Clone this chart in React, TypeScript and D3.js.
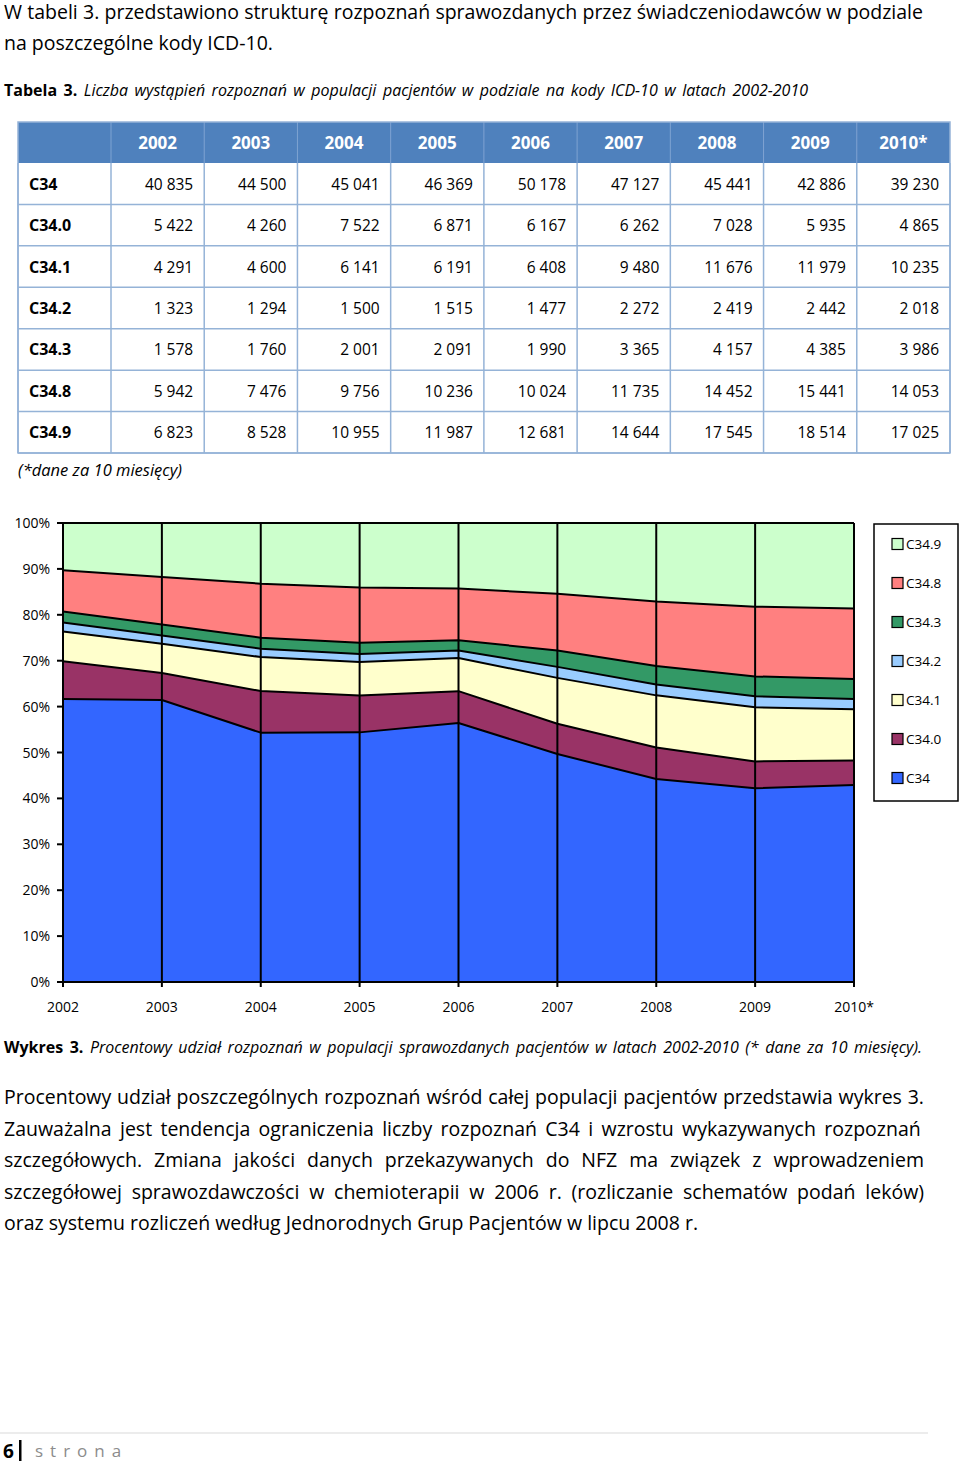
import React, { useRef, useLayoutEffect } from 'react';
import * as d3 from 'd3';

const years = ['2002', '2003', '2004', '2005', '2006', '2007', '2008', '2009', '2010*'];
const codes = ['C34', 'C34.0', 'C34.1', 'C34.2', 'C34.3', 'C34.8', 'C34.9'];
const c34 = [40835, 44500, 45041, 46369, 50178, 47127, 45441, 42886, 39230];
const c340 = [5422, 4260, 7522, 6871, 6167, 6262, 7028, 5935, 4865];
const c341 = [4291, 4600, 6141, 6191, 6408, 9480, 11676, 11979, 10235];
const c342 = [1323, 1294, 1500, 1515, 1477, 2272, 2419, 2442, 2018];
const c343 = [1578, 1760, 2001, 2091, 1990, 3365, 4157, 4385, 3986];
const c348 = [5942, 7476, 9756, 10236, 10024, 11735, 14452, 15441, 14053];
const c349 = [6823, 8528, 10955, 11987, 12681, 14644, 17545, 18514, 17025];
const seriesValues = [c34, c340, c341, c342, c343, c348, c349];
const colors = ['#3366FF', '#993366', '#FFFFCC', '#99CCFF', '#339966', '#FF8080', '#CCFFCC'];

const introLines = [
  'W tabeli 3. przedstawiono strukturę rozpoznań sprawozdanych przez świadczeniodawców w podziale',
  'na poszczególne kody ICD-10.',
];
const paraLines = [
  'Procentowy udział poszczególnych rozpoznań wśród całej populacji pacjentów przedstawia wykres 3.',
  'Zauważalna jest tendencja ograniczenia liczby rozpoznań C34 i  wzrostu wykazywanych rozpoznań',
  'szczegółowych. Zmiana jakości danych przekazywanych do NFZ ma związek z wprowadzeniem',
  'szczegółowej sprawozdawczości w chemioterapii w 2006 r. (rozliczanie schematów podań leków)',
  'oraz systemu rozliczeń według Jednorodnych Grup Pacjentów w lipcu 2008 r.',
];

const FONT = '"Open Sans", "Noto Sans", sans-serif';

const locale = d3.formatLocale({ decimal: ',', thousands: ' ', grouping: [3], currency: ['', ''] });
const fmt = locale.format(',d');

function JText(props: any) {
  const { width, children, ...rest } = props;
  const ref = useRef<SVGTextElement>(null);
  useLayoutEffect(() => {
    const run = () => {
      const el = ref.current;
      if (!el || !width) return;
      el.setAttribute('word-spacing', '0');
      const len = el.getComputedTextLength();
      const spaces = ((el.textContent || '').match(/ /g) || []).length;
      if (spaces) el.setAttribute('word-spacing', String((width - len) / spaces));
    };
    run();
    if ((document as any).fonts) (document as any).fonts.ready.then(run);
  }, [width]);
  return (
    <text ref={ref} {...rest}>
      {children}
    </text>
  );
}

export default function App() {
  // Table geometry
  const tLeft = 18, tRight = 950, tTop = 122, hdrBottom = 163, tBottom = 453;
  const firstColRight = 111;
  const colX = d3.scaleLinear().domain([0, years.length]).range([firstColRight, tRight]);
  const rowY = d3.scaleLinear().domain([0, codes.length]).range([hdrBottom, tBottom]);
  const rowH = rowY(1) - rowY(0);

  // Chart geometry
  const x = d3.scalePoint<string>().domain(years).range([63, 854]);
  const y = d3.scaleLinear().domain([0, 1]).range([982, 523]);
  const table = years.map((yr, i) => {
    const o: any = { year: yr };
    codes.forEach((c, k) => (o[c] = seriesValues[k][i]));
    return o;
  });
  const stack = d3.stack<any>().keys(codes).offset(d3.stackOffsetExpand);
  const layers = stack(table);
  const area = d3
    .area<any>()
    .x((d) => x(d.data.year) as number)
    .y0((d) => y(d[0]))
    .y1((d) => y(d[1]));
  const topLine = d3
    .line<any>()
    .x((d) => x(d.data.year) as number)
    .y((d) => y(d[1]));
  const yTicks = y.ticks(10);

  const legendY = d3.scalePoint<string>().domain([...codes].reverse()).range([544, 778]);

  return (
    <svg
      width={960}
      height={1463}
      style={{ position: 'absolute', left: 0, top: 0, background: '#fff' }}
      fontFamily={FONT}
    >
      <rect x={0} y={0} width={960} height={1463} fill="#fff" />
      {/* Intro */}
      <JText x={4} y={19} fontSize={19.5} width={919} fill="#000">
        {introLines[0]}
      </JText>
      <text x={4} y={50} fontSize={19.5} fill="#000">
        {introLines[1]}
      </text>
      <JText x={4} y={96} fontSize={16} width={804} fill="#000">
        <tspan fontWeight="bold">Tabela 3.</tspan>
        <tspan fontStyle="italic"> Liczba wystąpień rozpoznań w populacji pacjentów w podziale na kody ICD-10 w latach 2002-2010</tspan>
      </JText>

      {/* Table */}
      <rect x={tLeft} y={tTop} width={tRight - tLeft} height={hdrBottom - tTop} fill="#4F81BD" />
      {years.map((yr, i) => (
        <line
          key={'hs' + i}
          x1={colX(i)}
          x2={colX(i)}
          y1={tTop}
          y2={hdrBottom}
          stroke="#7FA3D2"
          strokeWidth={1}
        />
      ))}
      {years.map((yr, i) => (
        <text
          key={'h' + yr}
          x={(colX(i) + colX(i + 1)) / 2}
          y={(tTop + hdrBottom) / 2 + 6}
          textAnchor="middle"
          fontSize={17}
          fontWeight="bold"
          fill="#fff"
        >
          {yr}
        </text>
      ))}
      {codes.map((c, r) => (
        <g key={'row' + c}>
          <text x={29} y={rowY(r) + rowH / 2 + 6} fontSize={16} fontWeight="bold" fill="#000">
            {c}
          </text>
          {seriesValues[r].map((v, i) => (
            <text
              key={i}
              x={colX(i + 1) - 11}
              y={rowY(r) + rowH / 2 + 6}
              textAnchor="end"
              fontSize={15.5}
              fill="#000"
            >
              {fmt(v)}
            </text>
          ))}
        </g>
      ))}
      {codes.map((c, r) => (
        <line
          key={'hl' + r}
          x1={tLeft}
          x2={tRight}
          y1={rowY(r + 1)}
          y2={rowY(r + 1)}
          stroke="#95B3D7"
          strokeWidth={1.5}
        />
      ))}
      {[firstColRight, ...years.map((_, i) => colX(i + 1))].map((xx, i) => (
        <line key={'vl' + i} x1={xx} x2={xx} y1={hdrBottom} y2={tBottom} stroke="#95B3D7" strokeWidth={1.5} />
      ))}
      <line x1={tLeft} x2={tLeft} y1={hdrBottom} y2={tBottom} stroke="#95B3D7" strokeWidth={1.5} />
      <rect
        x={tLeft}
        y={tTop}
        width={tRight - tLeft}
        height={tBottom - tTop}
        fill="none"
        stroke="#95B3D7"
        strokeWidth={1.5}
      />
      <text x={18} y={476} fontSize={16.5} fontStyle="italic" fill="#000">
        (*dane za 10 miesięcy)
      </text>

      {/* Chart */}
      {layers.map((l, k) => (
        <path key={'a' + k} d={area(l as any) || ''} fill={colors[k]} stroke="none" />
      ))}
      {layers.map((l, k) => (
        <path
          key={'l' + k}
          d={topLine(l as any) || ''}
          fill="none"
          stroke="#000"
          strokeWidth={2}
          strokeLinejoin="round"
        />
      ))}
      {years.map((yr) => (
        <line key={'g' + yr} x1={x(yr)} x2={x(yr)} y1={y(1)} y2={y(0) + 5} stroke="#000" strokeWidth={2} />
      ))}
      <line x1={x(years[0])} x2={x(years[years.length - 1])} y1={y(0)} y2={y(0)} stroke="#000" strokeWidth={2} />
      {yTicks.map((t) => (
        <g key={'yt' + t}>
          <line x1={57} x2={63} y1={y(t)} y2={y(t)} stroke="#000" strokeWidth={2} />
          <text x={50} y={y(t) + 5} textAnchor="end" fontSize={14} fill="#000">
            {d3.format('.0%')(t)}
          </text>
        </g>
      ))}
      {years.map((yr) => (
        <text key={'xt' + yr} x={x(yr)} y={1012} textAnchor="middle" fontSize={14} fill="#000">
          {yr}
        </text>
      ))}

      {/* Legend */}
      <rect x={874} y={524} width={84} height={277} fill="#fff" stroke="#000" strokeWidth={1.5} />
      {[...codes].reverse().map((c) => {
        const k = codes.indexOf(c);
        const ly = legendY(c) as number;
        return (
          <g key={'lg' + c}>
            <rect x={892} y={ly - 5.5} width={11} height={11} fill={colors[k]} stroke="#000" strokeWidth={1.2} />
            <text x={906} y={ly + 5} fontSize={13.5} fill="#000">
              {c}
            </text>
          </g>
        );
      })}

      {/* Caption */}
      <JText x={4} y={1053} fontSize={16} width={918} fill="#000">
        <tspan fontWeight="bold">Wykres 3.</tspan>
        <tspan fontStyle="italic"> Procentowy udział rozpoznań w populacji sprawozdanych pacjentów w latach 2002-2010 (* dane za 10 miesięcy).</tspan>
      </JText>

      {/* Paragraph */}
      {paraLines.map((ln, i) =>
        i < paraLines.length - 1 ? (
          <JText key={'p' + i} x={4} y={1104 + i * 31.6} fontSize={19.5} width={920} fill="#000">
            {ln}
          </JText>
        ) : (
          <text key={'p' + i} x={4} y={1104 + i * 31.6} fontSize={19.5} fill="#000">
            {ln}
          </text>
        )
      )}

      {/* Footer */}
      <line x1={0} x2={928} y1={1433} y2={1433} stroke="#D9D9D9" strokeWidth={1} />
      <text x={3} y={1458} fontSize={19} fontWeight="bold" fill="#000">
        6
      </text>
      <rect x={19} y={1440} width={2.5} height={21} fill="#000" />
      <text x={35} y={1457} fontSize={17} fill="#8C8C8C" letterSpacing={7}>
        strona
      </text>
    </svg>
  );
}
